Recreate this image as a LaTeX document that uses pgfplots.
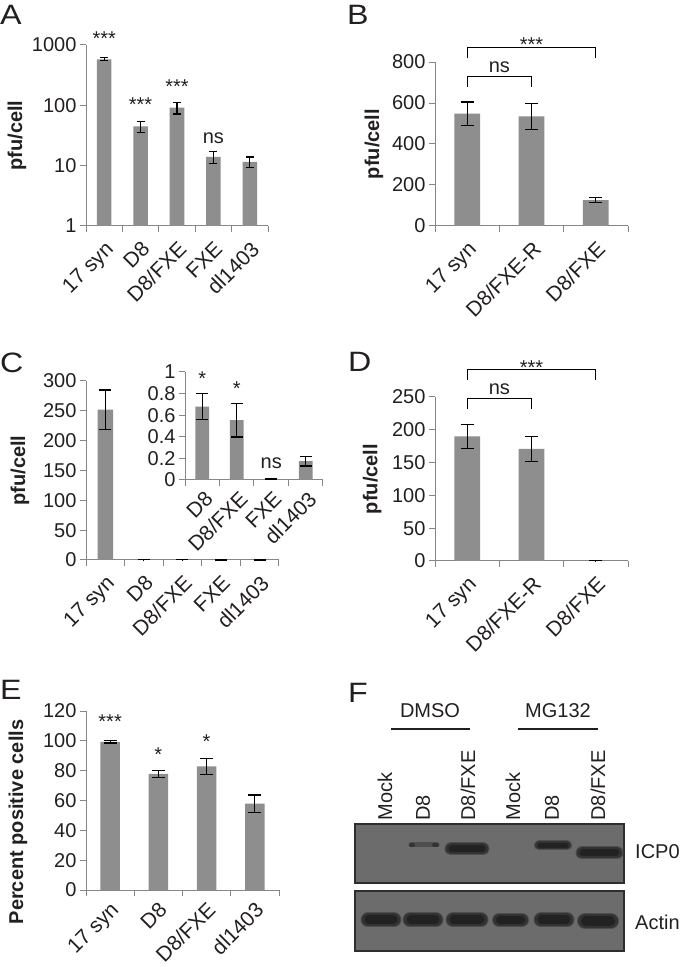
\documentclass[border=0pt]{standalone}
\usepackage{fontspec}
\setmainfont{Liberation Sans}
\usepackage{pgfplots}
\pgfplotsset{compat=1.18}
\definecolor{barc}{HTML}{8E8E8E}
\definecolor{axc}{HTML}{868686}
\definecolor{txt}{HTML}{231F20}
\definecolor{blotbg}{HTML}{6C6C6C}
\definecolor{band}{HTML}{222222}
\definecolor{bandmid}{HTML}{333333}
\definecolor{bandhalo}{HTML}{4E4E4E}
\definecolor{blotframe}{HTML}{2E2E2E}
\newcommand{\fs}{\fontsize{20}{22}\selectfont}
\newcommand{\fx}{\fontsize{21}{23}\selectfont}
\newcommand{\fl}{\fontsize{28}{30}\selectfont}
\pgfplotsset{
 barax/.style={
   scale only axis, enlargelimits=false, clip=false,
   axis x line*=bottom, axis y line*=left,
   axis line style={draw=axc, line width=1pt},
   tick style={draw=axc, line width=1pt},
   tick align=outside, major tick length=6pt,
   x tick label as interval,
   ticklabel style={font=\fs, text=txt},
   xticklabel style={font=\fx, yshift=-8pt, rotate=45, anchor=north east, inner sep=0pt},
   ylabel style={font=\fs\bfseries, text=txt},
   ybar, bar width=0.4,
 },
 bars/.style={fill=barc, draw=none,
   error bars/y dir=both, error bars/y explicit,
   error bars/error bar style={line width=1.2pt, black},
   error bars/error mark options={rotate=90, mark size=#1, line width=1.2pt, black}},
}
\tikzset{
 ann/.style={font=\fs, text=txt, anchor=north, inner sep=0pt},
 brk/.style={line width=1.2pt, black},
 letter/.style={anchor=base west, font=\fl, inner sep=0pt, text=txt, xscale=1.15},
}
\begin{document}
\begin{tikzpicture}[x=1pt,y=1pt]
\path[use as bounding box] (0pt,0pt) rectangle (680pt,967pt);
% panel letters
\node[letter] at (0pt,942pt) {A};
\node[letter] at (347pt,942pt) {B};
\node[letter] at (0pt,594.5pt) {C};
\node[letter] at (348pt,595pt) {D};
\node[letter] at (0pt,267pt) {E};
\node[letter] at (348pt,264pt) {F};

% ---------- A ----------
\begin{axis}[barax, at={(86pt,741pt)}, anchor=south west, width=182pt, height=181pt,
  ymode=log, ymin=1, ymax=1000, ytick={1,10,100,1000}, yticklabels={1,10,100,1000},
  yminorticks=false,
  xmin=-0.5, xmax=4.5, xtick={-0.5,0.5,1.5,2.5,3.5,4.5},
  xticklabels={17 syn, D8, D8/FXE, FXE, dl1403},
  ylabel={pfu/cell}, ylabel style={at={(axis description cs:-0.379,0.5)}, anchor=center}]
\addplot[bars=4pt] table[x=x, y=y, y error=e, row sep=\\] {
x y e\\ 0 580 32\\ 1 45 9.5\\ 2 92 20\\ 3 14 3\\ 4 11.6 2.3\\};
\node[ann] at (axis cs:0,1644) {***};
\node[ann] at (axis cs:1,137) {***};
\node[ann] at (axis cs:2,263) {***};
\node[ann] at (axis cs:3,34.8) {ns};
\end{axis}

% ---------- B ----------
\begin{axis}[barax, at={(435pt,741pt)}, anchor=south west, width=193pt, height=164pt,
  ymin=0, ymax=800, ytick={0,200,400,600,800}, yticklabels={0,200,400,600,800},
  xmin=-0.5, xmax=2.5, xtick={-0.5,0.5,1.5,2.5},
  xticklabels={17 syn, D8/FXE-R, D8/FXE},
  ylabel={pfu/cell}, ylabel style={at={(axis description cs:-0.316,0.5)}, anchor=center}]
\addplot[bars=6.5pt] table[x=x, y=y, y error=e, row sep=\\] {
x y e\\ 0 548 57\\ 1 535 63\\ 2 126 13\\};
\draw[brk] (axis cs:0,677) -- (axis cs:0,728) -- (axis cs:1,728) -- (axis cs:1,677);
\draw[brk] (axis cs:0,818) -- (axis cs:0,870) -- (axis cs:2,870) -- (axis cs:2,818);
\node[ann] at (axis cs:0.5,800) {ns};
\node[ann] at (axis cs:1,917) {***};
\end{axis}

% ---------- C ----------
\begin{axis}[barax, at={(86pt,407pt)}, anchor=south west, width=193pt, height=179pt,
  ymin=0, ymax=300, ytick={0,50,100,150,200,250,300}, yticklabels={0,50,100,150,200,250,300},
  xmin=-0.5, xmax=4.5, xtick={-0.5,0.5,1.5,2.5,3.5,4.5},
  xticklabels={17 syn, D8, D8/FXE, FXE, dl1403},
  ylabel={pfu/cell}, ylabel style={at={(axis description cs:-0.342,0.5)}, anchor=center}]
\addplot[bars=6pt] table[x=x, y=y, y error=e, row sep=\\] {
x y e\\ 0 252 33\\ 1 0.68 0.12\\ 2 0.55 0.16\\ 3 0.01 0.003\\ 4 0.17 0.05\\};
\end{axis}
\begin{axis}[barax, at={(185pt,487pt)}, anchor=south west, width=138pt, height=108pt,
  ymin=0, ymax=1, ytick={0,0.2,0.4,0.6,0.8,1}, yticklabels={0,0.2,0.4,0.6,0.8,1},
  xmin=-0.5, xmax=3.5, xtick={-0.5,0.5,1.5,2.5,3.5},
  xticklabels={D8, D8/FXE, FXE, dl1403},
  xticklabel style={yshift=2pt, xshift=4pt}]
\addplot[bars=5.8pt] table[x=x, y=y, y error=e, row sep=\\] {
x y e\\ 0 0.68 0.12\\ 1 0.555 0.157\\ 2 0.01 0.003\\ 3 0.175 0.045\\};
\node[ann] at (axis cs:0,1.0) {*};
\node[ann] at (axis cs:1,0.91) {*};
\node[ann] at (axis cs:2,0.21) {ns};
\end{axis}

% ---------- D ----------
\begin{axis}[barax, at={(435pt,406pt)}, anchor=south west, width=193pt, height=164pt,
  ymin=0, ymax=250, ytick={0,50,100,150,200,250}, yticklabels={0,50,100,150,200,250},
  xmin=-0.5, xmax=2.5, xtick={-0.5,0.5,1.5,2.5},
  xticklabels={17 syn, D8/FXE-R, D8/FXE},
  ylabel={pfu/cell}, ylabel style={at={(axis description cs:-0.326,0.5)}, anchor=center}]
\addplot[bars=6.5pt] table[x=x, y=y, y error=e, row sep=\\] {
x y e\\ 0 190 18\\ 1 171 19\\ 2 0.7 0.1\\};
\draw[brk] (axis cs:0,231.7) -- (axis cs:0,248) -- (axis cs:1,248) -- (axis cs:1,231.7);
\draw[brk] (axis cs:0,276) -- (axis cs:0,292) -- (axis cs:2,292) -- (axis cs:2,276);
\node[ann] at (axis cs:0.5,271) {ns};
\node[ann] at (axis cs:1,306) {***};
\end{axis}

% ---------- E ----------
\begin{axis}[barax, at={(86pt,77pt)}, anchor=south west, width=193pt, height=179pt,
  ymin=0, ymax=120, ytick={0,20,40,60,80,100,120}, yticklabels={0,20,40,60,80,100,120},
  xmin=-0.5, xmax=3.5, xtick={-0.5,0.5,1.5,2.5,3.5},
  xticklabels={17 syn, D8, D8/FXE, dl1403},
  xticklabel style={yshift=3pt, xshift=2pt},
  ylabel={Percent positive cells}, ylabel style={at={(axis description cs:-0.352,0.38)}, anchor=center}]
\addplot[bars=6.5pt] table[x=x, y=y, y error=e, row sep=\\] {
x y e\\ 0 99.3 0.7\\ 1 77.8 2.2\\ 2 82.9 5.4\\ 3 57.9 5.8\\};
\node[ann] at (axis cs:0,117.3) {***};
\node[ann] at (axis cs:1,95.7) {*};
\node[ann] at (axis cs:2,103.9) {*};
\end{axis}

% ---------- F (blot) ----------
\begin{axis}[scale only axis, at={(355pt,84pt)}, anchor=south west, width=269pt, height=59pt,
  xmin=355, xmax=624, ymin=84, ymax=143, enlargelimits=false, clip=false,
  axis background/.style={fill=blotbg},
  axis line style={draw=blotframe, line width=1.5pt},
  xtick={385,423,468,513,552,598},
  xticklabels={Mock,D8,D8/FXE,Mock,D8,D8/FXE},
  xticklabel pos=upper, major tick length=0pt, tick style={draw=none},
  xticklabel style={rotate=90, anchor=west, font=\fs, text=txt},
  ytick=\empty]
\addplot[draw=bandhalo, line width=5pt, line cap=round] coordinates {(411,122) (437,122)};
\addplot[draw=bandmid, line width=4pt, line cap=round] coordinates {(411,122) (413,122)};
\addplot[draw=bandmid, line width=4pt, line cap=round] coordinates {(434,122) (437,122)};
\addplot[draw=bandhalo, line width=13pt, line cap=round] coordinates {(451,118) (483,118)};
\addplot[draw=bandmid, line width=11pt, line cap=round] coordinates {(451,118) (483,118)};
\addplot[draw=band, line width=7pt, line cap=round] coordinates {(452,118) (482,118)};
\addplot[draw=bandhalo, line width=10pt, line cap=round] coordinates {(539,121.5) (567,121.5)};
\addplot[draw=bandmid, line width=8pt, line cap=round] coordinates {(539,121.5) (567,121.5)};
\addplot[draw=band, line width=5pt, line cap=round] coordinates {(540,121.5) (566,121.5)};
\addplot[draw=bandhalo, line width=13pt, line cap=round] coordinates {(582,114) (617,114)};
\addplot[draw=bandmid, line width=11pt, line cap=round] coordinates {(582,114) (617,114)};
\addplot[draw=band, line width=7pt, line cap=round] coordinates {(583,114) (616,114)};
\draw[line width=1.2pt, txt] (axis cs:391,238) -- (axis cs:470,238);
\draw[line width=1.2pt, txt] (axis cs:518,238) -- (axis cs:598,238);
\node[font=\fs, text=txt, inner sep=0pt] at (axis cs:430,256) {DMSO};
\node[font=\fs, text=txt, inner sep=0pt] at (axis cs:558,256) {MG132};
\node[font=\fs, text=txt, inner sep=0pt, anchor=west] at (axis cs:635,115) {ICP0};
\end{axis}
\begin{axis}[scale only axis, at={(355pt,16pt)}, anchor=south west, width=269pt, height=60pt,
  xmin=355, xmax=624, ymin=16, ymax=76, enlargelimits=false, clip=false,
  axis background/.style={fill=blotbg},
  axis line style={draw=blotframe, line width=1.5pt},
  xtick=\empty, ytick=\empty]
\addplot[draw=bandhalo, line width=15pt, line cap=round] coordinates {(368,47) (394,47)};
\addplot[draw=bandmid, line width=13pt, line cap=round] coordinates {(368,47) (394,47)};
\addplot[draw=band, line width=9pt, line cap=round] coordinates {(369,47) (393,47)};
\addplot[draw=bandhalo, line width=15pt, line cap=round] coordinates {(410,47) (436,47)};
\addplot[draw=bandmid, line width=13pt, line cap=round] coordinates {(410,47) (436,47)};
\addplot[draw=band, line width=9pt, line cap=round] coordinates {(411,47) (435,47)};
\addplot[draw=bandhalo, line width=15pt, line cap=round] coordinates {(453,47) (481,47)};
\addplot[draw=bandmid, line width=13pt, line cap=round] coordinates {(453,47) (481,47)};
\addplot[draw=band, line width=9pt, line cap=round] coordinates {(454,47) (480,47)};
\addplot[draw=bandhalo, line width=14pt, line cap=round] coordinates {(499,47) (522,47)};
\addplot[draw=bandmid, line width=12pt, line cap=round] coordinates {(499,47) (522,47)};
\addplot[draw=band, line width=8pt, line cap=round] coordinates {(500,47) (521,47)};
\addplot[draw=bandhalo, line width=15pt, line cap=round] coordinates {(541,47) (567,47)};
\addplot[draw=bandmid, line width=13pt, line cap=round] coordinates {(541,47) (567,47)};
\addplot[draw=band, line width=9pt, line cap=round] coordinates {(542,47) (566,47)};
\addplot[draw=bandhalo, line width=16pt, line cap=round] coordinates {(585,46) (611,46)};
\addplot[draw=bandmid, line width=14pt, line cap=round] coordinates {(585,46) (611,46)};
\addplot[draw=band, line width=10pt, line cap=round] coordinates {(586,46) (610,46)};
\node[font=\fs, text=txt, inner sep=0pt, anchor=west] at (axis cs:635,45) {Actin};
\end{axis}
\end{tikzpicture}
\end{document}
